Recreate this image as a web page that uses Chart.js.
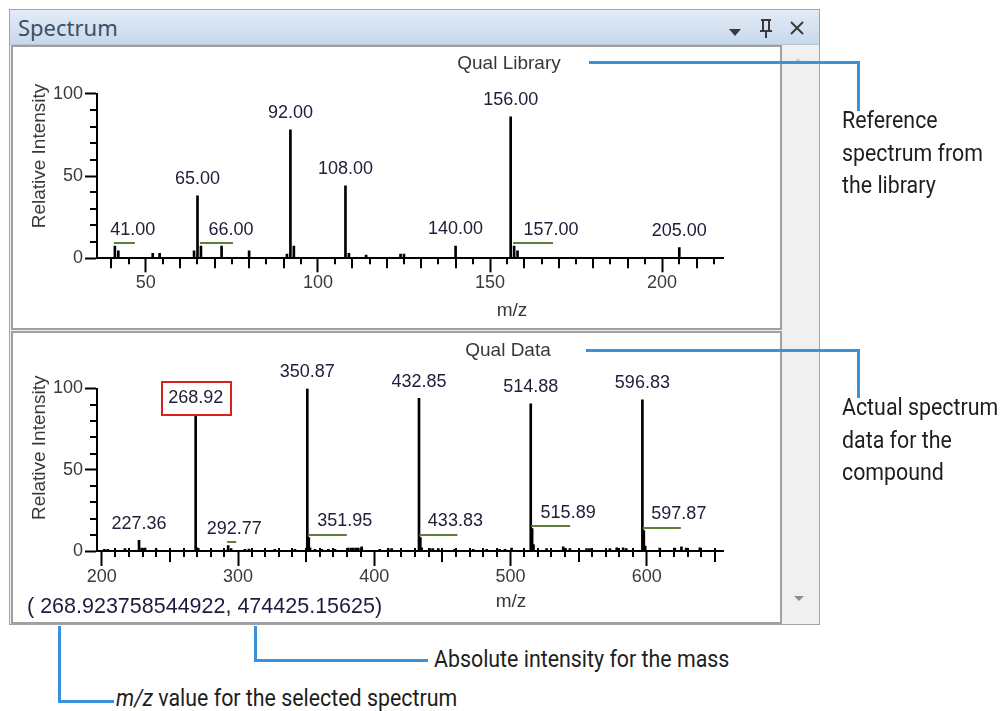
<!DOCTYPE html>
<html>
<head>
<meta charset="utf-8">
<script src="https://cdn.jsdelivr.net/npm/chart.js@4.4.1/dist/chart.umd.min.js"></script>
<style>
  html, body { margin: 0; padding: 0; background: #fff; }
  body { width: 1001px; height: 711px; position: relative; overflow: hidden; font-family: 'Liberation Sans', Arial, sans-serif; }
  .abs { position: absolute; box-sizing: border-box; }
  #win { left: 9px; top: 9px; width: 811px; height: 616px; border: 1px solid #a3a3a3; background: #f0f0f0; }
  #titlebar { left: 10px; top: 10px; width: 809px; height: 35px; background: linear-gradient(#e3ecf7, #c8d8eb); border-bottom: 1px solid #b9c6d6; }
  #wintitle { left: 18px; top: 11px; font: 22px 'Noto Sans', 'Open Sans', sans-serif; color: #3e4d63; line-height: 32px; }
  .panel { left: 11px; width: 771px; border: 2px solid #a0a0a0; background: #fff; }
  #p1 { top: 45px; height: 285px; }
  #p2 { top: 331px; height: 293px; }
  canvas { position: absolute; left: 13px; }
  #scroll { left: 782px; top: 45px; width: 37px; height: 579px; background: #f0f0f0; }
  .callout { position: absolute; background: #3a91dc; }
  .note { position: absolute; font: 24px Roboto, 'Open Sans', sans-serif; color: #1e1e1e; line-height: 32.5px; transform: scaleX(0.89); transform-origin: left top; white-space: nowrap; }
  #coords { left: 27px; top: 594px; font: 21.5px 'Liberation Sans', Arial, sans-serif; color: #1c1c3e; line-height: 25px; white-space: nowrap; }
</style>
</head>
<body>
<div id="win" class="abs"></div>
<div id="titlebar" class="abs"></div>
<div id="wintitle" class="abs">Spectrum</div>
<svg class="abs" style="left:720px;top:14px" width="95" height="28">
  <polygon points="9,15 21,15 15,22" fill="#3a3a3a"/>
  <g stroke="#3a3a3a" stroke-width="2" fill="none">
    <line x1="41" y1="6" x2="51" y2="6"/>
    <line x1="43" y1="6" x2="43" y2="17"/>
    <line x1="49" y1="6" x2="49" y2="17"/>
    <line x1="40" y1="17" x2="52" y2="17"/>
    <line x1="46" y1="17" x2="46" y2="24"/>
    <line x1="71" y1="8" x2="83" y2="20"/>
    <line x1="83" y1="8" x2="71" y2="20"/>
  </g>
</svg>
<div id="p1" class="abs panel"></div>
<div id="p2" class="abs panel"></div>
<div id="scroll" class="abs"></div>
<svg class="abs" style="left:790px;top:55px" width="16" height="10"><polygon points="4,7 12,7 8,3" fill="#d0d0d0"/></svg>
<svg class="abs" style="left:792px;top:594px" width="16" height="10"><polygon points="2,2 12,2 7,7" fill="#8c8c8c"/></svg>

<canvas id="libChart" width="767" height="281" style="top:47px"></canvas>
<canvas id="dataChart" width="767" height="289" style="top:333px"></canvas>

<div id="coords" class="abs">( 268.923758544922, 474425.15625)</div>

<div class="callout" style="left:589px;top:61px;width:271px;height:3px"></div>
<div class="callout" style="left:857px;top:61px;width:3px;height:50px"></div>
<div class="callout" style="left:586px;top:349px;width:274px;height:3px"></div>
<div class="callout" style="left:857px;top:349px;width:3px;height:49px"></div>
<div class="callout" style="left:254px;top:626px;width:3px;height:36px"></div>
<div class="callout" style="left:254px;top:659px;width:174px;height:3px"></div>
<div class="callout" style="left:58px;top:626px;width:3px;height:77px"></div>
<div class="callout" style="left:58px;top:700px;width:56px;height:3px"></div>

<div class="note" style="left:842px;top:104px">Reference<br>spectrum from<br>the library</div>
<div class="note" style="left:842px;top:391px">Actual spectrum<br>data for the<br>compound</div>
<div class="note" style="left:434px;top:643px">Absolute intensity for the mass</div>
<div class="note" style="left:116px;top:682px"><i>m/z</i> value for the selected spectrum</div>

<script>
// Qual Library spectrum (relative intensity %)
const libMz  = [41, 42, 52, 54, 64, 65, 66, 72, 80, 91, 92, 93, 108, 109, 114, 124, 125, 140, 156, 157, 158, 205];
const libInt = [7.5, 4.5, 3, 3, 4.5, 38, 7.5, 7.5, 4.5, 2.5, 78, 7.5, 44, 3, 2, 2.5, 2.5, 7.5, 86, 7.5, 4.5, 6.5];
const libTopLabels = [65, 92, 108, 140, 156, 205];
const libIsoLabels = [41, 66, 157];
const libIsoSpans  = [5.8, 9.3, 11.3];
const libXTicks = [50, 100, 150, 200];

// Qual Data spectrum (relative intensity %)
const dataMz = [201.9, 204.4, 217, 227.36, 229.3, 231.8, 240, 268.92, 269.9, 270.9, 292.77, 294.9, 305, 308, 327, 341.8,
  350.87, 351.95, 352.9, 356.5, 361.4, 366.3, 371.2, 381, 383, 384.6, 386.5, 388.3, 390.8, 404, 410.3, 412.8,
  432.85, 433.83, 434.8, 440.9, 443, 447, 459, 472.6, 482.5, 492, 496, 500.8, 514.88, 515.89, 516.9, 526.5,
  538.7, 540.5, 543.6, 555.8, 558, 573, 578, 582.7, 585, 596.83, 597.87, 598.9, 609.6, 620.6, 625.5, 629, 639];
const dataInt = [1, 1, 1.5, 6.5, 1.8, 1.8, 1, 83.7, 2, 1.5, 3.4, 1.5, 1, 1.2, 1, 1,
  100, 8.3, 2, 1, 1, 1, 1, 1.8, 1.8, 1.8, 1.8, 1.8, 2.5, 1, 1.5, 1.5,
  94, 8.3, 2, 1.5, 1.5, 1.5, 1, 1, 1, 1, 1, 1.8, 90.5, 13.8, 4, 1.5,
  2.5, 1.5, 1.5, 1.5, 1.5, 1.5, 2, 2, 1.5, 93, 12.6, 3, 1.8, 1.8, 2.5, 1.8, 2];
const dataTopLabels = [227.36, 268.92, 350.87, 432.85, 514.88, 596.83];
const dataIsoLabels = [292.77, 351.95, 433.83, 515.89, 597.87];
const dataIsoSpans  = [5.9, 27.9, 27.2, 27.9, 27.2];
const dataSelected = 268.92;
const dataXTicks = [200, 300, 400, 500, 600];

const yTicks = [0, 50, 100];

Chart.defaults.font.family = "'Liberation Sans', Arial, sans-serif";

// extra (shorter) tick marks between the labelled ones
const minorTicks = {
  id: 'minorTicks',
  afterDraw(chart, args, o) {
    const { ctx, scales: { x, y } } = chart;
    ctx.save();
    ctx.strokeStyle = '#000';
    ctx.lineWidth = 2;
    ctx.beginPath();
    for (let v = 10; v < 100; v += 10) {
      if (v % 50 === 0) continue;
      const py = Math.round(y.getPixelForValue(v));
      ctx.moveTo(x.left, py);
      ctx.lineTo(x.left - 7, py);
    }
    const first = Math.ceil(x.min / o.step) * o.step;
    for (let v = first; v <= x.max; v += o.step) {
      if (v % o.major === 0) continue;
      const len = v % o.mid === 0 ? o.midLen : 6;
      const px = Math.round(x.getPixelForValue(v));
      ctx.moveTo(px, y.bottom - o.above);
      ctx.lineTo(px, y.bottom + len);
    }
    ctx.stroke();
    ctx.restore();
  }
};

// peak labels, isotope markers and the text around the plot
const peakLabels = {
  id: 'peakLabels',
  afterDraw(chart, args, o) {
    const ctx = chart.ctx;
    const pts = chart.data.datasets[0].data;
    const meta = chart.getDatasetMeta(0);
    const area = chart.chartArea;
    const bar = mz => meta.data[pts.findIndex(p => p.x === mz)];

    ctx.save();
    ctx.font = "18px 'Liberation Sans', Arial, sans-serif";
    ctx.textAlign = 'center';
    ctx.textBaseline = 'middle';
    ctx.fillStyle = '#20203a';

    o.top.forEach(mz => {
      const b = bar(mz);
      ctx.fillText(mz.toFixed(2), b.x, b.y - 16.5);
      if (mz === o.selected) {
        ctx.strokeStyle = '#d8231d';
        ctx.lineWidth = 2;
        ctx.strokeRect(Math.round(b.x) - 34, Math.round(b.y) - 33, 69, 33);
      }
    });

    o.iso.forEach((mz, k) => {
      const b = bar(mz);
      const x2 = chart.scales.x.getPixelForValue(mz + o.spans[k]);
      const ly = Math.round(b.y) - 3;
      ctx.strokeStyle = '#5f7d3c';
      ctx.lineWidth = 2;
      ctx.beginPath();
      ctx.moveTo(b.x - 1, ly);
      ctx.lineTo(x2, ly);
      ctx.stroke();
      ctx.fillText(mz.toFixed(2), x2 - 2, b.y - 16);
    });

    ctx.fillStyle = '#383838';
    ctx.font = "19px 'Liberation Sans', Arial, sans-serif";
    ctx.fillText(o.title, o.titleX, area.top - o.titleUp);
    ctx.fillText('m/z', o.titleX + 3, area.bottom + o.xTitleDown);
    ctx.translate(27, (area.top + area.bottom) / 2 - o.yTitleUp);
    ctx.rotate(-Math.PI / 2);
    ctx.fillText('Relative Intensity', 0, 0);
    ctx.restore();
  }
};

function makeChart(id, mz, inten, xMin, xMax, xTicks, tickLen, padTop, xHeight, labelOpts, tickOpts) {
  const ctx = document.getElementById(id).getContext('2d');
  return new Chart(ctx, {
    type: 'bar',
    data: {
      datasets: [{
        data: mz.map((m, i) => ({ x: m, y: inten[i] })),
        backgroundColor: '#000',
        borderWidth: 0,
        barThickness: 2
      }]
    },
    options: {
      responsive: false,
      animation: false,
      events: [],
      layout: { padding: { left: 0, right: 57, top: padTop, bottom: 0 } },
      scales: {
        x: {
          type: 'linear',
          min: xMin,
          max: xMax,
          offset: false,
          afterBuildTicks: s => { s.ticks = xTicks.map(v => ({ value: v })); },
          afterFit: s => { s.height = xHeight; },
          ticks: { autoSkip: false, maxRotation: 0, padding: 0, color: '#3a3a3a', font: { size: 18 } },
          grid: { display: true, offset: false, drawOnChartArea: false, drawTicks: true, tickLength: tickLen, tickWidth: 2, tickColor: '#000' },
          border: { display: true, color: '#000', width: 2 }
        },
        y: {
          min: 0,
          max: 100,
          afterBuildTicks: s => { s.ticks = yTicks.map(v => ({ value: v })); },
          afterFit: s => { s.width = 84; },
          ticks: { autoSkip: false, padding: 2, color: '#3a3a3a', font: { size: 18 } },
          grid: { display: true, drawOnChartArea: false, drawTicks: true, tickLength: 12, tickWidth: 2, tickColor: '#000' },
          border: { display: true, color: '#000', width: 2 }
        }
      },
      plugins: {
        legend: { display: false },
        tooltip: { enabled: false },
        minorTicks: tickOpts,
        peakLabels: labelOpts
      }
    },
    plugins: [minorTicks, peakLabels]
  });
}

makeChart('libChart', libMz, libInt, 35.8, 217.7, libXTicks, 14, 46.7, 69.7,
  { top: libTopLabels, iso: libIsoLabels, spans: libIsoSpans, selected: null,
    title: 'Qual Library', titleX: 496, titleUp: 30, xTitleDown: 52, yTitleUp: 20 },
  { step: 5, mid: 10, major: 50, midLen: 10, above: 0 });

makeChart('dataChart', dataMz, dataInt, 196.5, 656, dataXTicks, 15, 55.5, 71,
  { top: dataTopLabels, iso: dataIsoLabels, spans: dataIsoSpans, selected: dataSelected,
    title: 'Qual Data', titleX: 495, titleUp: 38, xTitleDown: 51, yTitleUp: 22 },
  { step: 10, mid: 50, major: 100, midLen: 11, above: 3 });
</script>
</body>
</html>
